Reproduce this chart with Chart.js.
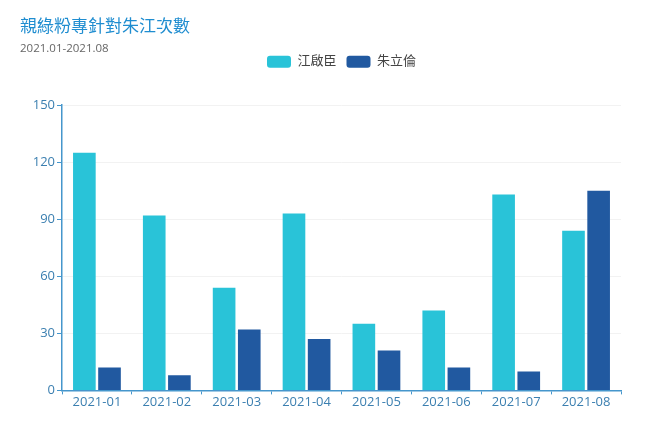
<!DOCTYPE html>
<html>
<head>
<meta charset="utf-8">
<script src="https://cdn.jsdelivr.net/npm/chart.js@4/dist/chart.umd.min.js"></script>
<style>
  html, body { margin: 0; padding: 0; background: #fff; }
  #wrap { width: 656px; height: 431px; }
</style>
</head>
<body>
<div id="wrap"><canvas id="chart"></canvas></div>
<script>
// data
const months    = ['2021-01', '2021-02', '2021-03', '2021-04', '2021-05', '2021-06', '2021-07', '2021-08'];
const seriesA   = [125, 92, 54, 93, 35, 42, 103, 84];   // 江啟臣
const seriesB   = [12, 8, 32, 27, 21, 12, 10, 105];     // 朱立倫
const yTicks    = [0, 30, 60, 90, 120, 150];

const COLORS = {
  cyan:   '#29c3d8',
  navy:   '#2159a0',
  axis:   '#4596cc',
  label:  '#3b7fb0',
  title:  '#1f8dd0',
  grid:   '#f2f2f2',
};

const FONT = '"Open Sans", "Noto Sans CJK TC", sans-serif';

// extra room under the legend, and legend centred over the plot area
const legendPlace = {
  id: 'legendPlace',
  beforeInit(chart) {
    const fit = chart.legend.fit;
    chart.legend.fit = function () {
      fit.bind(chart.legend)();
      this.height += 17;
    };
  },
  afterLayout(chart) {
    const lg = chart.legend;
    const shift = (chart.chartArea.left + chart.chartArea.right) / 2 - (lg.left + lg.right) / 2;
    lg.left += shift;
    lg.right += shift;
    lg.top -= 10;
    lg.bottom -= 10;
  },
};

new Chart(document.getElementById('chart'), {
  type: 'bar',
  data: {
    labels: months,
    datasets: [
      { label: '江啟臣', data: seriesA, backgroundColor: COLORS.cyan, barPercentage: 0.9, categoryPercentage: 0.72 },
      { label: '朱立倫', data: seriesB, backgroundColor: COLORS.navy, barPercentage: 0.9, categoryPercentage: 0.72 },
    ],
  },
  options: {
    responsive: true,
    maintainAspectRatio: false,
    animation: false,
    layout: { padding: { left: 20, right: 35, bottom: 21, top: 0 } },
    plugins: {
      title: {
        display: true,
        text: '親綠粉專針對朱江次數',
        align: 'start',
        color: COLORS.title,
        font: { family: FONT, size: 17, weight: 'normal' },
        padding: { top: 17, bottom: 4 },
      },
      subtitle: {
        display: true,
        text: '2021.01-2021.08',
        align: 'start',
        color: '#666',
        font: { family: FONT, size: 11.5 },
        padding: { top: 0, bottom: 0 },
      },
      legend: {
        display: true,
        labels: {
          color: '#444',
          font: { family: FONT, size: 13 },
          boxWidth: 24,
          boxHeight: 12,
          useBorderRadius: true,
          borderRadius: 3,
          padding: 10,
        },
      },
      tooltip: { enabled: false },
    },
    scales: {
      x: {
        grid: { offset: true, drawOnChartArea: false, tickLength: 4, tickColor: COLORS.axis },
        border: { color: COLORS.axis, width: 1.5 },
        ticks: { color: COLORS.label, font: { family: FONT, size: 13 }, padding: 0 },
      },
      y: {
        min: 0,
        max: 150,
        afterBuildTicks: axis => { axis.ticks = yTicks.map(v => ({ value: v })); },
        afterFit: axis => { axis.width = 42; },
        grid: { color: COLORS.grid, tickLength: 5, tickColor: COLORS.axis },
        border: { color: COLORS.axis, width: 1.5 },
        ticks: { color: COLORS.label, font: { family: FONT, size: 13 }, padding: 2 },
      },
    },
  },
  plugins: [legendPlace],
});
</script>
</body>
</html>
